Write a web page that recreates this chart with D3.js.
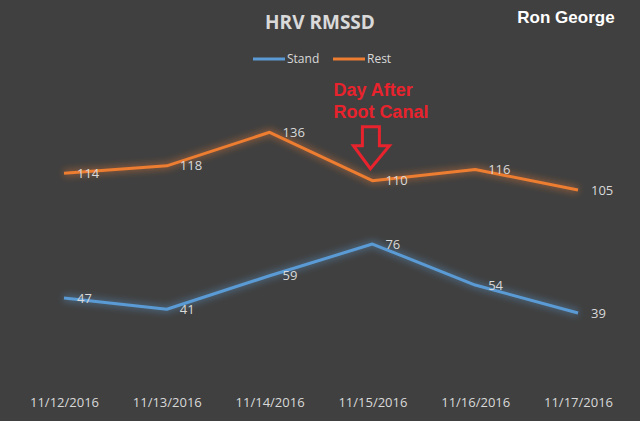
<!DOCTYPE html>
<html lang="en">
<head>
  <meta charset="utf-8">
  <script src="https://d3js.org/d3.v7.min.js"></script>
  <style>
    html, body { margin: 0; padding: 0; background: #404040; }
    svg { display: block; }
  </style>
</head>
<body>
  <div id="chart"></div>
  <script>
  const width = 640
  const height = 421

  // data
  const dates = ["11/12/2016", "11/13/2016", "11/14/2016", "11/15/2016", "11/16/2016", "11/17/2016"]
  const stand = [47, 41, 59, 76, 54, 39]
  const rest = [114, 118, 136, 110, 116, 105]
  const seriesNames = ["Stand", "Rest"]
  const colors = ["#5B9BD5", "#ED7D31"]
  const noteDate = "11/15/2016"
  const noteLines = ["Day After", "Root Canal"]

  const series = [
    { name: seriesNames[0], color: colors[0], values: stand },
    { name: seriesNames[1], color: colors[1], values: rest }
  ]

  const plot = { left: 12.6, right: 629.4, top: 87.6, bottom: 385.6 }

  const x = d3.scalePoint()
      .domain(dates)
      .range([plot.left, plot.right])
      .padding(0.5)

  const y = d3.scaleLinear()
      .domain([0, 160])
      .range([plot.bottom, plot.top])

  const svg = d3.select("#chart").append("svg")
      .attr("width", width)
      .attr("height", height)

  svg.append("rect")
      .attr("width", width)
      .attr("height", height)
      .attr("fill", "#404040")

  // glow like Excel's line effect
  const defs = svg.append("defs")
  const filter = defs.append("filter")
      .attr("id", "glow")
      .attr("x", "-20%").attr("y", "-50%")
      .attr("width", "140%").attr("height", "200%")
  filter.append("feGaussianBlur")
      .attr("in", "SourceGraphic")
      .attr("stdDeviation", 3.5)

  //////////////////////// Title ////////////////////////
  svg.append("text")
      .attr("x", 320)
      .attr("y", 29)
      .attr("text-anchor", "middle")
      .attr("font-family", "Open Sans, sans-serif")
      .attr("font-weight", "bold")
      .attr("font-size", "19px")
      .attr("fill", "#d9d9d9")
      .text("HRV RMSSD")

  svg.append("text")
      .attr("x", 566)
      .attr("y", 23)
      .attr("text-anchor", "middle")
      .attr("font-family", "Liberation Sans, Arial, sans-serif")
      .attr("font-weight", "bold")
      .attr("font-size", "17px")
      .attr("fill", "#ffffff")
      .text("Ron George")

  //////////////////////// Legend ////////////////////////
  const legend = svg.append("g")
  const legendX = [253, 333]
  series.forEach((s, i) => {
    legend.append("line")
        .attr("x1", legendX[i]).attr("x2", legendX[i] + 32)
        .attr("y1", 59).attr("y2", 59)
        .attr("stroke", s.color)
        .attr("stroke-width", 3)
    legend.append("text")
        .attr("x", legendX[i] + 34)
        .attr("y", 59)
        .attr("dy", "0.35em")
        .attr("font-family", "Open Sans, sans-serif")
        .attr("font-size", "12px")
        .attr("fill", "#d9d9d9")
        .text(s.name)
  })

  //////////////////////// X axis ////////////////////////
  const xAxis = svg.append("g")
      .attr("transform", `translate(0,${plot.bottom})`)
      .call(d3.axisBottom(x).tickSize(0).tickPadding(12))
  xAxis.select(".domain").remove()
  xAxis.selectAll("text")
      .attr("font-family", "Open Sans, sans-serif")
      .attr("font-size", "13px")
      .attr("fill", "#d9d9d9")

  //////////////////////// Lines ////////////////////////
  const line = d3.line()
      .x((d, i) => x(dates[i]))
      .y(d => y(d))

  series.forEach(s => {
    svg.append("path")
        .datum(s.values)
        .attr("d", line)
        .attr("fill", "none")
        .attr("stroke", s.color)
        .attr("stroke-width", 6)
        .attr("stroke-opacity", 0.45)
        .attr("filter", "url(#glow)")
    svg.append("path")
        .datum(s.values)
        .attr("d", line)
        .attr("fill", "none")
        .attr("stroke", s.color)
        .attr("stroke-width", 3)
        .attr("stroke-linejoin", "round")
  })

  //////////////////////// Data labels ////////////////////////
  series.forEach(s => {
    svg.append("g").selectAll("text")
        .data(s.values)
        .join("text")
        .attr("x", (d, i) => x(dates[i]) + 13)
        .attr("y", d => y(d))
        .attr("dy", "0.35em")
        .attr("font-family", "Open Sans, sans-serif")
        .attr("font-size", "13px")
        .attr("fill", "#d9d9d9")
        .text(d => d)
  })

  //////////////////////// Annotation ////////////////////////
  const nx = x(noteDate)
  const ny = y(rest[dates.indexOf(noteDate)])
  const note = svg.append("g")
  note.selectAll("text")
      .data(noteLines)
      .join("text")
      .attr("x", nx - 39)
      .attr("y", (d, i) => ny - 85 + i * 22.5)
      .attr("font-family", "Liberation Sans, Arial, sans-serif")
      .attr("font-weight", "bold")
      .attr("font-size", "18px")
      .attr("fill", "#e8232d")
      .text(d => d)

  // hollow down arrow
  const tipY = ny - 12
  const arrow = d3.path()
  arrow.moveTo(nx - 10, tipY - 42)
  arrow.lineTo(nx + 7, tipY - 42)
  arrow.lineTo(nx + 7, tipY - 23)
  arrow.lineTo(nx + 17, tipY - 23)
  arrow.lineTo(nx - 2, tipY)
  arrow.lineTo(nx - 19, tipY - 23)
  arrow.lineTo(nx - 10, tipY - 23)
  arrow.closePath()
  note.append("path")
      .attr("d", arrow.toString())
      .attr("fill", "none")
      .attr("stroke", "#e8232d")
      .attr("stroke-width", 3)
      .attr("stroke-linejoin", "miter")
  </script>
</body>
</html>
